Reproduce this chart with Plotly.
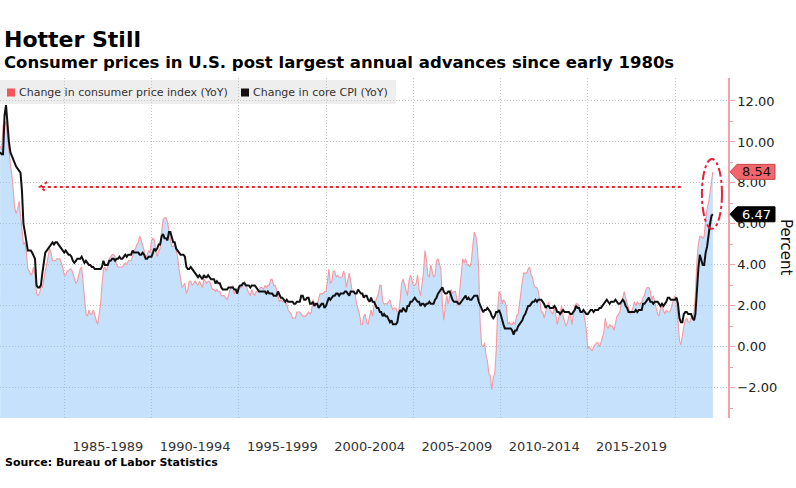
import pandas as pd
import plotly.graph_objects as go

# ---------------- data (monthly YoY %, May 1981 .. Mar 2022) ----------------
start_month = "1981-05-01"

cpi_yoy = [
    9.8, 9.6, 10.8, 10.8, 11.0, 10.1, 9.6, 8.9,
    8.4, 7.6, 6.8, 6.5, 6.7, 7.1, 6.4, 5.9, 5.0, 5.1, 4.6, 3.8,
    3.7, 3.5, 3.6, 3.9, 3.5, 2.6, 2.5, 2.6, 2.9, 2.9, 3.3, 3.8,
    4.2, 4.6, 4.8, 4.6, 4.2, 4.2, 4.2, 4.3, 4.3, 4.3, 4.1, 3.9,
    3.5, 3.5, 3.7, 3.7, 3.8, 3.8, 3.6, 3.3, 3.1, 3.2, 3.5, 3.8,
    3.9, 3.1, 2.2, 1.6, 1.5, 1.8, 1.6, 1.6, 1.8, 1.5, 1.3, 1.1,
    1.5, 2.1, 3.0, 3.8, 3.9, 3.7, 3.9, 4.3, 4.4, 4.5, 4.5, 4.4,
    4.0, 3.9, 3.9, 3.9, 3.9, 4.0, 4.1, 4.0, 4.2, 4.2, 4.2, 4.4,
    4.7, 4.8, 5.0, 5.1, 5.4, 5.2, 5.0, 4.7, 4.3, 4.5, 4.7, 4.6,
    5.2, 5.3, 5.2, 4.7, 4.4, 4.7, 4.8, 5.6, 6.2, 6.3, 6.3, 6.1,
    5.7, 5.3, 4.9, 4.9, 5.0, 4.7, 4.4, 3.8, 3.4, 2.9, 3.0, 3.1,
    2.6, 2.8, 3.2, 3.2, 3.0, 3.1, 3.2, 3.1, 3.0, 3.2, 3.0, 2.9,
    3.3, 3.2, 3.1, 3.2, 3.2, 3.0, 2.8, 2.8, 2.7, 2.8, 2.7, 2.7,
    2.5, 2.5, 2.5, 2.4, 2.3, 2.5, 2.8, 2.9, 3.0, 2.6, 2.7, 2.7,
    2.8, 2.9, 2.9, 3.1, 3.2, 3.0, 2.8, 2.6, 2.5, 2.8, 2.6, 2.5,
    2.7, 2.7, 2.8, 2.9, 2.9, 2.8, 3.0, 2.9, 3.0, 3.0, 3.3, 3.3,
    3.0, 3.0, 2.8, 2.5, 2.2, 2.3, 2.2, 2.2, 2.2, 2.1, 1.8, 1.7,
    1.6, 1.4, 1.4, 1.4, 1.7, 1.7, 1.7, 1.6, 1.5, 1.5, 1.5, 1.6,
    1.7, 1.6, 1.7, 2.3, 2.1, 2.0, 2.1, 2.3, 2.6, 2.6, 2.6, 2.7,
    2.7, 3.2, 3.8, 3.1, 3.2, 3.7, 3.7, 3.4, 3.5, 3.4, 3.4, 3.4,
    3.7, 3.5, 2.9, 3.3, 3.6, 3.2, 2.7, 2.7, 2.6, 2.1, 1.9, 1.6,
    1.1, 1.1, 1.5, 1.6, 1.2, 1.1, 1.5, 1.8, 1.5, 2.0, 2.2, 2.4,
    2.6, 3.0, 3.0, 2.2, 2.1, 2.1, 2.1, 2.2, 2.3, 2.0, 1.8, 1.9,
    1.9, 1.7, 1.7, 2.3, 3.1, 3.3, 3.0, 2.7, 2.5, 3.2, 3.5, 3.3,
    3.0, 3.0, 3.1, 3.5, 2.8, 2.5, 3.2, 3.6, 4.7, 4.3, 3.5, 3.4,
    4.0, 3.6, 3.4, 3.5, 4.2, 4.3, 4.1, 3.8, 2.1, 1.3, 2.0, 2.5,
    2.1, 2.4, 2.8, 2.6, 2.7, 2.7, 2.4, 2.0, 2.8, 3.5, 4.3, 4.1,
    4.3, 4.0, 4.0, 3.9, 4.2, 5.0, 5.6, 5.4, 4.9, 3.7, 1.1, 0.1,
    0.0, 0.2, -0.4, -0.7, -1.3, -1.4, -2.1, -1.5, -1.3, -0.2, 1.8, 2.7,
    2.6, 2.1, 2.3, 2.2, 2.0, 1.1, 1.2, 1.1, 1.1, 1.2, 1.1, 1.5,
    1.6, 2.1, 2.7, 3.2, 3.6, 3.6, 3.6, 3.8, 3.9, 3.5, 3.4, 3.0,
    2.9, 2.9, 2.7, 2.3, 1.7, 1.7, 1.4, 1.7, 2.0, 2.2, 1.8, 1.7,
    1.6, 2.0, 1.5, 1.1, 1.4, 1.8, 2.0, 1.5, 1.2, 1.0, 1.2, 1.5,
    1.6, 1.1, 1.5, 2.0, 2.1, 2.1, 2.0, 1.7, 1.7, 1.7, 1.3, 0.8,
    -0.1, 0.0, -0.1, -0.2, 0.0, 0.1, 0.2, 0.2, 0.0, 0.2, 0.5, 0.7,
    1.4, 1.0, 0.9, 1.1, 1.0, 1.0, 0.8, 1.1, 1.5, 1.6, 1.7, 2.1,
    2.5, 2.7, 2.4, 2.2, 1.9, 1.6, 1.7, 1.9, 2.2, 2.0, 2.2, 2.1,
    2.1, 2.2, 2.4, 2.5, 2.8, 2.9, 2.9, 2.7, 2.3, 2.5, 2.2, 1.9,
    1.6, 1.5, 1.9, 2.0, 1.8, 1.6, 1.8, 1.7, 1.7, 1.8, 2.1, 2.3,
    2.5, 2.3, 1.5, 0.3, 0.1, 0.6, 1.0, 1.3, 1.4, 1.2, 1.2, 1.4,
    1.4, 1.7, 2.6, 4.2, 5.0, 5.4, 5.4, 5.3, 5.4, 6.2, 6.8, 7.0,
    7.5, 7.9, 8.54,
]

core_yoy = [
    9.5, 9.4, 9.4, 11.3, 11.8, 10.8, 10.0, 9.5,
    9.3, 9.1, 9.0, 8.8, 8.7, 8.6, 8.5, 7.6, 6.0, 5.6, 5.2, 4.7,
    4.7, 4.7, 4.6, 4.4, 4.3, 3.0, 2.9, 2.9, 3.0, 3.6, 4.2, 4.6,
    4.7, 4.8, 4.9, 5.0, 5.1, 5.0, 5.1, 5.1, 5.0, 4.9, 4.8, 4.7,
    4.6, 4.7, 4.6, 4.5, 4.5, 4.4, 4.2, 4.1, 4.2, 4.3, 4.3, 4.3,
    4.4, 4.2, 4.1, 4.2, 4.1, 4.0, 4.0, 3.9, 3.9, 3.8, 3.8, 3.8,
    3.8, 3.8, 3.9, 4.2, 4.0, 4.0, 4.0, 4.2, 4.2, 4.3, 4.3, 4.2,
    4.3, 4.3, 4.4, 4.3, 4.3, 4.4, 4.5, 4.4, 4.5, 4.5, 4.5, 4.7,
    4.6, 4.6, 4.6, 4.6, 4.5, 4.5, 4.6, 4.5, 4.3, 4.3, 4.4, 4.4,
    4.4, 4.6, 4.8, 4.7, 4.8, 5.0, 5.0, 5.4, 5.5, 5.3, 5.3, 5.2,
    5.6, 5.6, 5.3, 5.1, 5.1, 4.8, 4.7, 4.6, 4.5, 4.5, 4.5, 4.4,
    3.9, 3.8, 3.8, 3.9, 3.8, 3.7, 3.6, 3.5, 3.4, 3.5, 3.4, 3.3,
    3.5, 3.4, 3.4, 3.5, 3.4, 3.3, 3.3, 3.3, 3.1, 3.2, 3.1, 3.1,
    2.9, 2.8, 2.8, 2.8, 2.8, 2.9, 2.9, 2.9, 2.9, 2.8, 2.8, 2.6,
    2.9, 3.0, 3.0, 3.1, 3.1, 3.0, 3.0, 3.0, 2.9, 3.0, 3.0, 3.0,
    2.9, 2.8, 2.7, 2.7, 2.7, 2.7, 2.7, 2.6, 2.7, 2.6, 2.6, 2.6,
    2.5, 2.5, 2.5, 2.7, 2.5, 2.4, 2.4, 2.3, 2.2, 2.3, 2.2, 2.2,
    2.2, 2.2, 2.1, 2.1, 2.2, 2.2, 2.2, 2.5, 2.5, 2.3, 2.3, 2.4,
    2.4, 2.1, 2.1, 2.2, 2.0, 2.1, 2.1, 1.9, 2.0, 2.1, 2.1, 1.9,
    2.0, 2.2, 2.4, 2.3, 2.4, 2.5, 2.5, 2.6, 2.6, 2.5, 2.6, 2.6,
    2.6, 2.7, 2.7, 2.6, 2.5, 2.7, 2.7, 2.7, 2.6, 2.6, 2.8, 2.7,
    2.6, 2.6, 2.4, 2.5, 2.5, 2.3, 2.2, 2.4, 2.2, 2.2, 2.0, 1.9,
    1.9, 1.7, 1.7, 1.5, 1.6, 1.5, 1.5, 1.3, 1.2, 1.3, 1.1, 1.1,
    1.1, 1.2, 1.6, 1.8, 1.7, 1.9, 1.8, 1.7, 2.0, 2.0, 2.2, 2.2,
    2.3, 2.4, 2.3, 2.2, 2.2, 2.0, 2.1, 2.1, 2.0, 2.1, 2.1, 2.2,
    2.1, 2.1, 2.1, 2.3, 2.4, 2.6, 2.7, 2.8, 2.9, 2.7, 2.6, 2.6,
    2.7, 2.7, 2.5, 2.3, 2.2, 2.2, 2.2, 2.1, 2.1, 2.2, 2.3, 2.4,
    2.5, 2.3, 2.4, 2.3, 2.3, 2.4, 2.5, 2.5, 2.5, 2.2, 2.0, 1.8,
    1.7, 1.8, 1.8, 1.9, 1.8, 1.7, 1.5, 1.4, 1.5, 1.7, 1.7, 1.8,
    1.6, 1.3, 1.1, 0.9, 0.9, 0.9, 0.9, 0.9, 0.8, 0.6, 0.8, 0.8,
    1.0, 1.1, 1.2, 1.3, 1.5, 1.6, 1.8, 2.0, 2.0, 2.1, 2.2, 2.2,
    2.3, 2.2, 2.3, 2.3, 2.3, 2.2, 2.1, 1.9, 2.0, 2.0, 1.9, 1.9,
    1.9, 2.0, 1.9, 1.7, 1.7, 1.6, 1.7, 1.8, 1.7, 1.7, 1.7, 1.7,
    1.6, 1.6, 1.7, 1.8, 2.0, 1.9, 1.9, 1.7, 1.7, 1.8, 1.7, 1.6,
    1.6, 1.7, 1.8, 1.8, 1.7, 1.8, 1.8, 1.8, 1.9, 1.9, 2.0, 2.1,
    2.2, 2.3, 2.2, 2.1, 2.2, 2.2, 2.2, 2.3, 2.2, 2.1, 2.1, 2.2,
    2.3, 2.2, 2.0, 1.9, 1.7, 1.7, 1.7, 1.7, 1.7, 1.8, 1.7, 1.8,
    1.8, 1.8, 2.1, 2.1, 2.2, 2.3, 2.4, 2.2, 2.2, 2.1, 2.2, 2.2,
    2.2, 2.1, 2.0, 2.1, 2.0, 2.1, 2.2, 2.4, 2.4, 2.3, 2.3, 2.3,
    2.3, 2.4, 2.1, 1.4, 1.2, 1.2, 1.6, 1.7, 1.7, 1.6, 1.6, 1.6,
    1.4, 1.3, 1.6, 3.0, 3.8, 4.5, 4.3, 4.0, 4.0, 4.6, 4.9, 5.5,
    6.0, 6.4, 6.47,
]

period_labels = ["1985-1989", "1990-1994", "1995-1999", "2000-2004",
                 "2005-2009", "2010-2014", "2015-2019"]
period_mids = ["1987-07-02", "1992-07-02", "1997-07-02", "2002-07-02",
               "2007-07-02", "2012-07-02", "2017-07-02"]
period_bounds = ["1985-01-01", "1990-01-01", "1995-01-01", "2000-01-01",
                 "2005-01-01", "2010-01-01", "2015-01-01", "2020-01-01"]
y_ticks = [-2, 0, 2, 4, 6, 8, 10, 12]

cpi_name = "Change in consumer price index (YoY)"
core_name = "Change in core CPI (YoY)"
arrow_level = 7.8           # the dotted reference arrow level

# ---------------- layout constants ----------------
W, H = 796, 488
M_L, M_R, M_T, M_B = 0, 68, 78, 70
PW, PH = W - M_L - M_R, H - M_T - M_B
Y_MIN, Y_MAX = -3.47, 13.12
X_RANGE = ["1981-04-28", "2023-01-12"]
FONT = "DejaVu Sans"
PINK_AXIS = "#f3a2ab"
FILL = "rgba(120,186,245,0.43)"
GRID = "#c4c4c4"
GRID_DASH = "1px,2px"


def px_x(px):
    return (px - M_L) / PW


def px_y(py):
    return (H - M_B - py) / PH


dates = pd.date_range(start_month, periods=len(cpi_yoy), freq="MS")
assert len(cpi_yoy) == len(core_yoy)

fig = go.Figure()
# baseline for area fill (bottom of plot)
fig.add_trace(go.Scatter(x=dates, y=[Y_MIN] * len(dates), mode="lines",
                         line=dict(width=0, color="rgba(0,0,0,0)"),
                         hoverinfo="skip", showlegend=False))
fig.add_trace(go.Scatter(x=dates, y=cpi_yoy, mode="lines", name=cpi_name,
                         fill="tonexty", fillcolor=FILL,
                         line=dict(color="#f59aa3", width=1.1),
                         showlegend=False))
fig.add_trace(go.Scatter(x=dates, y=core_yoy, mode="lines", name=core_name,
                         line=dict(color="#111111", width=2),
                         showlegend=False))

shapes = []
annotations = []

# legend band
shapes.append(dict(type="rect", xref="paper", yref="paper", layer="below",
                   x0=px_x(0), x1=px_x(396), y0=px_y(104), y1=px_y(80),
                   fillcolor="#eeeeee", line=dict(width=0)))
for sx, col, tx, label in [(7, "#f4555d", 17, cpi_name), (241, "#111111", 251, core_name)]:
    shapes.append(dict(type="rect", xref="paper", yref="paper", layer="above",
                       x0=px_x(sx), x1=px_x(sx + 8), y0=px_y(96.5), y1=px_y(88.5),
                       fillcolor=col, line=dict(width=0)))
    annotations.append(dict(xref="paper", yref="paper", x=px_x(tx), y=px_y(92.5),
                            xanchor="left", yanchor="middle", showarrow=False,
                            text=label, font=dict(family=FONT, size=11, color="#333333")))

# dotted arrow
shapes.append(dict(type="line", xref="x", yref="y", layer="above",
                   x0="1983-09-20", x1="2020-06-15", y0=arrow_level, y1=arrow_level,
                   line=dict(color="#e3262e", width=2, dash="dot")))
dy = 5 / (PH / (Y_MAX - Y_MIN))
shapes.append(dict(type="path", xref="x", yref="y", layer="above",
                   path=f"M 1984-01-10,{arrow_level + dy} L 1983-08-10,{arrow_level} "
                        f"L 1984-01-10,{arrow_level - dy}",
                   line=dict(color="#e3262e", width=2, dash="dot")))

# dashed ellipse around latest readings
shapes.append(dict(type="circle", xref="x", yref="y", layer="above",
                   x0="2021-07-15", x1="2022-09-08", y0=5.76, y1=9.17,
                   line=dict(color="#e8203a", width=2, dash="dashdot")))

# last-value tags
upp = (Y_MAX - Y_MIN) / PH
for val, fillc, linec, txtc in [(cpi_yoy[-1], "#f2676c", "#c8464c", "#111111"),
                                (core_yoy[-1], "#000000", "#000000", "#ffffff")]:
    h = 7.5 * upp
    x_tip, x_b, x_r = px_x(730), px_x(737), px_x(775)
    shapes.append(dict(type="path", xref="paper", yref="y", layer="above",
                       path=f"M {x_tip},{val} L {x_b},{val + h} L {x_r},{val + h} "
                            f"L {x_r},{val - h} L {x_b},{val - h} Z",
                       fillcolor=fillc, line=dict(color=linec, width=1)))
    annotations.append(dict(xref="paper", yref="y", x=px_x(756), y=val,
                            xanchor="center", yanchor="middle", showarrow=False,
                            text=f"{val:.2f}", font=dict(family=FONT, size=13, color=txtc)))

# axis title (rotated)
annotations.append(dict(xref="paper", yref="paper", x=px_x(786), y=px_y(247),
                        xanchor="center", yanchor="middle", showarrow=False,
                        textangle=90, text="Percent",
                        font=dict(family=FONT, size=15, color="#111111")))

# titles and source
annotations.append(dict(xref="paper", yref="paper", x=px_x(2), y=px_y(40),
                        xanchor="left", yanchor="middle", showarrow=False,
                        text="<b>Hotter Still</b>",
                        font=dict(family=FONT, size=22, color="#000000")))
annotations.append(dict(xref="paper", yref="paper", x=px_x(2), y=px_y(63),
                        xanchor="left", yanchor="middle", showarrow=False,
                        text="<b>Consumer prices in U.S. post largest annual advances since early 1980s</b>",
                        font=dict(family=FONT, size=16.5, color="#000000")))
annotations.append(dict(xref="paper", yref="paper", x=px_x(3), y=px_y(462),
                        xanchor="left", yanchor="middle", showarrow=False,
                        text="<b>Source: Bureau of Labor Statistics</b>",
                        font=dict(family=FONT, size=11, color="#000000")))

fig.update_layout(
    width=W, height=H,
    margin=dict(l=M_L, r=M_R, t=M_T, b=M_B, pad=0),
    paper_bgcolor="white", plot_bgcolor="white",
    showlegend=False,
    shapes=shapes, annotations=annotations,
    font=dict(family=FONT, color="#222222"),
    xaxis=dict(
        type="date", range=X_RANGE, showline=False, zeroline=False,
        tickmode="array", tickvals=period_mids, ticktext=period_labels,
        ticks="outside", ticklen=16, tickcolor="rgba(0,0,0,0)",
        tickfont=dict(family=FONT, size=13, color="#333333"),
        showgrid=False,
        minor=dict(tickmode="array", tickvals=period_bounds, showgrid=True,
                   gridcolor=GRID, griddash=GRID_DASH, gridwidth=1, ticks=""),
    ),
    yaxis=dict(
        side="right", range=[Y_MIN, Y_MAX], tickmode="array", tickvals=y_ticks,
        tickformat=".2f", ticks="outside", ticklen=5, tickcolor=PINK_AXIS,
        showline=True, linecolor=PINK_AXIS, linewidth=1.5,
        showgrid=True, gridcolor=GRID, griddash=GRID_DASH, gridwidth=1,
        zeroline=False,
        tickfont=dict(family=FONT, size=13, color="#222222"),
        minor=dict(tickmode="array", tickvals=[-3, -1, 1, 3, 5, 7, 9, 11],
                   ticks="outside", ticklen=3, tickcolor=PINK_AXIS, showgrid=False),
    ),
)

fig.write_html("out.html", config={"displayModeBar": False})
